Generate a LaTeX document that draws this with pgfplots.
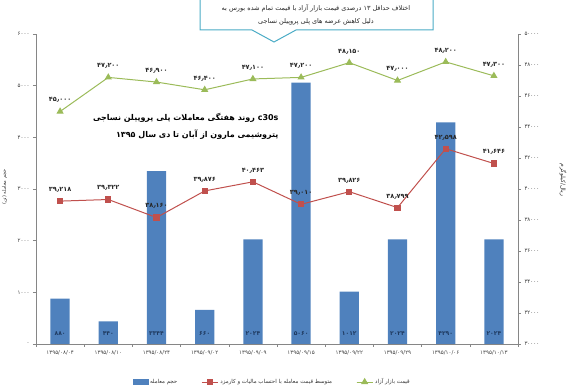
\documentclass[border=0pt]{standalone}
\usepackage{pgfplots}
\pgfplotsset{compat=1.18}
\usepackage{fontspec}
\setmainfont{DejaVu Sans}
\newfontfamily\fa[Script=Arabic]{DejaVu Sans}
\TeXXeTstate=1
\definecolor{barblue}{HTML}{4F81BD}
\definecolor{linered}{HTML}{C0504D}
\definecolor{linegreen}{HTML}{9BBB59}
\definecolor{axgray}{HTML}{868686}
\definecolor{calloutc}{HTML}{4BACC6}
\definecolor{barlab}{HTML}{1F3A60}
\begin{document}
\begin{tikzpicture}[x=1pt,y=1pt]
\begin{axis}[
  at={(36pt,44pt)}, anchor=south west,
  scale only axis, width=482pt, height=310pt,
  xmin=-0.5, xmax=9.5, ymin=0, ymax=6000,
  axis x line*=bottom, axis y line*=left,
  axis line style={axgray, line width=0.6pt},
  tick align=outside, major tick length=3pt,
  tick style={axgray, line width=0.5pt},
  scaled y ticks=false,
  ytick={0,1000,2000,3000,4000,5000,6000},
  yticklabels={۰,۱۰۰۰,۲۰۰۰,۳۰۰۰,۴۰۰۰,۵۰۰۰,۶۰۰۰},
  yticklabel style={font=\fa\fontsize{5.5}{6}\selectfont, text=black!75},
  xtick={-0.5,0.5,1.5,2.5,3.5,4.5,5.5,6.5,7.5,8.5,9.5},
  x tick label as interval=true,
  xticklabels={۱۳۹۵/۰۸/۰۴,۱۳۹۵/۰۸/۱۰,۱۳۹۵/۰۸/۲۴,۱۳۹۵/۰۹/۰۲,۱۳۹۵/۰۹/۰۹,۱۳۹۵/۰۹/۱۵,۱۳۹۵/۰۹/۲۲,۱۳۹۵/۰۹/۲۹,۱۳۹۵/۱۰/۰۶,۱۳۹۵/۱۰/۱۳},
  xticklabel style={font=\fa\fontsize{5.5}{6}\selectfont, text=black!75},
  clip=false,
]
\addplot[ybar, fill=barblue, draw=none, bar width=0.4,
  nodes near coords, point meta=explicit symbolic,
  visualization depends on={y \as \rawy},
  every node near coord/.append style={shift={(axis direction cs:0,-\rawy)}, anchor=south, yshift=5pt,
    font=\fa\bfseries\fontsize{6}{7}\selectfont, text=barlab}]
coordinates {
(0,880) [۸۸۰]
(1,440) [۴۴۰]
(2,3344) [۳۳۴۴]
(3,660) [۶۶۰]
(4,2024) [۲۰۲۴]
(5,5060) [۵۰۶۰]
(6,1012) [۱۰۱۲]
(7,2024) [۲۰۲۴]
(8,4290) [۴۲۹۰]
(9,2024) [۲۰۲۴]
};
\end{axis}
\begin{axis}[
  at={(36pt,44pt)}, anchor=south west,
  scale only axis, width=482pt, height=310pt,
  xmin=-0.5, xmax=9.5, ymin=30000, ymax=50000,
  axis x line=none, axis y line*=right,
  axis line style={axgray, line width=0.6pt},
  tick align=outside, major tick length=3pt,
  tick style={axgray, line width=0.5pt},
  scaled y ticks=false,
  ytick={30000,32000,34000,36000,38000,40000,42000,44000,46000,48000,50000},
  yticklabels={۳۰۰۰۰,۳۲۰۰۰,۳۴۰۰۰,۳۶۰۰۰,۳۸۰۰۰,۴۰۰۰۰,۴۲۰۰۰,۴۴۰۰۰,۴۶۰۰۰,۴۸۰۰۰,۵۰۰۰۰},
  yticklabel style={font=\fa\fontsize{5.5}{6}\selectfont, text=black!75},
  clip=false,
  legend style={at={(0.49,-0.1226)}, anchor=center, draw=none, fill=none,
    legend columns=3, font=\fa\fontsize{5.5}{6}\selectfont, text=black!80,
    /tikz/every even column/.append style={column sep=22pt}},
  legend image code/.code={\draw[#1] (0pt,0pt) -- (16pt,0pt); \draw[#1, mark repeat=2, mark phase=2] plot coordinates {(0pt,0pt) (8pt,0pt) (16pt,0pt)};},
]
\addlegendimage{legend image code/.code={\fill[barblue] (0pt,-2.5pt) rectangle (15pt,2.5pt);}}
\addlegendentry{\beginR حجم معامله\endR}
\addplot[linered, line width=1pt, mark=square*, mark size=2.6pt, mark options={fill=linered, draw=linered},
  nodes near coords, point meta=explicit symbolic,
  every node near coord/.append style={anchor=south, yshift=5pt,
    font=\fa\bfseries\fontsize{6.5}{7}\selectfont, text=black!85}]
coordinates {
(0,39218) [۳۹٫۲۱۸]
(1,39322) [۳۹٫۳۲۲]
(2,38160) [۳۸٫۱۶۰]
(3,39876) [۳۹٫۸۷۶]
(4,40463) [۴۰٫۴۶۳]
(5,39010) [۳۹٫۰۱۰]
(6,39826) [۳۹٫۸۲۶]
(7,38799) [۳۸٫۷۹۹]
(8,42598) [۴۲٫۵۹۸]
(9,41646) [۴۱٫۶۴۶]
};
\addlegendentry{\beginR متوسط قیمت معامله با احتساب مالیات و کارمزد\endR}
\addplot[linegreen, line width=1pt, mark=triangle*, mark size=3.2pt, mark options={fill=linegreen, draw=linegreen},
  nodes near coords, point meta=explicit symbolic,
  every node near coord/.append style={anchor=south, yshift=5pt,
    font=\fa\bfseries\fontsize{6.5}{7}\selectfont, text=black!85}]
coordinates {
(0,45000) [۴۵٫۰۰۰]
(1,47200) [۴۷٫۲۰۰]
(2,46900) [۴۶٫۹۰۰]
(3,46400) [۴۶٫۴۰۰]
(4,47100) [۴۷٫۱۰۰]
(5,47200) [۴۷٫۲۰۰]
(6,48150) [۴۸٫۱۵۰]
(7,47000) [۴۷٫۰۰۰]
(8,48200) [۴۸٫۲۰۰]
(9,47300) [۴۷٫۳۰۰]
};
\addlegendentry{\beginR قیمت بازار آزاد\endR}
\end{axis}
% callout
\draw[calloutc, line width=1pt, fill=white] (200,396) -- (200,358) -- (252,358) -- (274,346) -- (296,358) -- (433,358) -- (433,396);
\node[font=\fa\fontsize{6.5}{7}\selectfont, text=black!85] at (316,380) {\beginR اختلاف حداقل ۱۳ درصدی قیمت بازار آزاد با قیمت تمام شده بورس به\endR};
\node[font=\fa\fontsize{6.5}{7}\selectfont, text=black!85] at (316,366) {\beginR دلیل کاهش عرضه های پلی پروپیلن نساجی\endR};
% title inside plot
\node[anchor=east, font=\bfseries\fontsize{8}{10}\selectfont] at (282,270) {{\fa\beginR روند هفتگی معاملات پلی پروپیلن نساجی\endR} c30s};
\node[anchor=east, font=\fa\bfseries\fontsize{8}{10}\selectfont] at (282,253) {\beginR پتروشیمی مارون  از آبان تا دی سال ۱۳۹۵\endR};
% axis titles
\node[rotate=-90, font=\fa\fontsize{6}{7}\selectfont, text=black!80] at (563,208) {\beginR ریال/کیلوگرم\endR};
\node[rotate=90, font=\fa\fontsize{5}{6}\selectfont, text=black!80] at (4.5,201) {\beginR حجم معامله (تن)\endR};
\pgfresetboundingbox
\useasboundingbox (0,0) rectangle (576,388);
\end{tikzpicture}
\end{document}
